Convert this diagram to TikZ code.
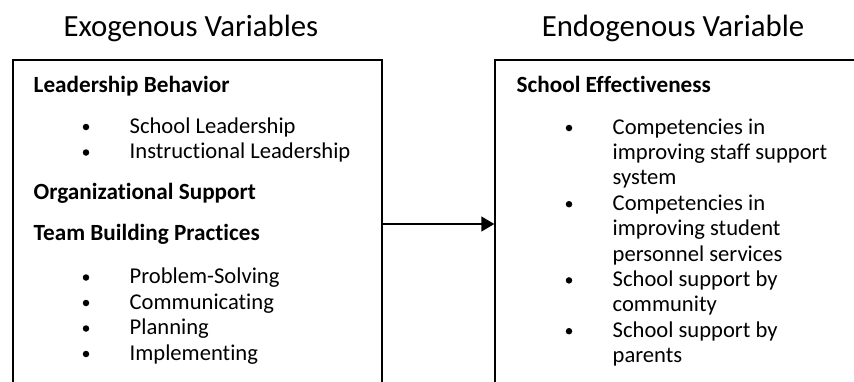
\documentclass[tikz,border=0pt]{standalone}
\usepackage{fontspec}
\setmainfont{Carlito}[Ligatures = NoCommon]
\usepackage{tikz}
\usetikzlibrary{positioning, arrows.meta}

\begin{document}
\begin{tikzpicture}[x = 1pt, y = -1pt, > = {Triangle[length = 13pt, width = 15pt]}, line width = 1.4pt,
  box/.style = {draw, inner sep = 0pt, minimum height = 328pt},
  title/.style = {anchor = base, font = \fontsize{30.8}{36}\selectfont},
  heading/.style = {anchor = base west, inner sep = 0pt, font = \fontsize{23.2}{26}\selectfont\bfseries},
  entry/.style = {anchor = base west, inner sep = 0pt, font = \fontsize{22.6}{25.4}\selectfont},
  itemdot/.style = {circle, fill, inner sep = 0pt, minimum size = 6.5pt}]
  \useasboundingbox (0,0) rectangle (854,381);
  \clip (0,0) rectangle (854,381);

  % boxes
  \node [box, minimum width = 369pt] (exo) at (197.5,224) {};
  \node [box, minimum width = 425pt] (endo) at (707.5,224) {};

  \node [title] (exo-title) at (191,36) {Exogenous Variables};
  \node [title] (endo-title) at (673,36) {Endogenous Variable};

  % edges
  \path[->] (exo) edge (endo);

  % exogenous side
  \node [heading] (leader) at (33,92) {Leadership Behavior};
  \node [itemdot] (dot-1) at (86,127) {};
  \node [entry] (leader-1) at (129,133) {School Leadership};
  \node [itemdot] (dot-2) at (86,152.5) {};
  \node [entry] (leader-2) at (129,158.5) {Instructional Leadership};
  \node [heading] (org) at (33,199) {Organizational Support};
  \node [heading] (team) at (33,240) {Team Building Practices};
  \node [itemdot] (dot-3) at (86,277.5) {};
  \node [entry] (team-1) at (129,283.5) {Problem-Solving};
  \node [itemdot] (dot-4) at (86,303) {};
  \node [entry] (team-2) at (129,309) {Communicating};
  \node [itemdot] (dot-5) at (86,328.5) {};
  \node [entry] (team-3) at (129,334.5) {Planning};
  \node [itemdot] (dot-6) at (86,354) {};
  \node [entry] (team-4) at (129,360) {Implementing};

  % endogenous side
  \node [heading] (effect) at (516,92) {School Effectiveness};
  \node [itemdot] (dot-7) at (569,128) {};
  \node [entry] (effect-1a) at (612,134) {Competencies in};
  \node [entry] (effect-1b) at (612,159.4) {improving staff support};
  \node [entry] (effect-1c) at (612,184.8) {system};
  \node [itemdot] (dot-8) at (569,204.2) {};
  \node [entry] (effect-2a) at (612,210.2) {Competencies in};
  \node [entry] (effect-2b) at (612,235.6) {improving student};
  \node [entry] (effect-2c) at (612,261) {personnel services};
  \node [itemdot] (dot-9) at (569,280.4) {};
  \node [entry] (effect-3a) at (612,286.4) {School support by};
  \node [entry] (effect-3b) at (612,311.8) {community};
  \node [itemdot] (dot-10) at (569,331.2) {};
  \node [entry] (effect-4a) at (612,337.2) {School support by};
  \node [entry] (effect-4b) at (612,362.6) {parents};

\end{tikzpicture}
\end{document}
